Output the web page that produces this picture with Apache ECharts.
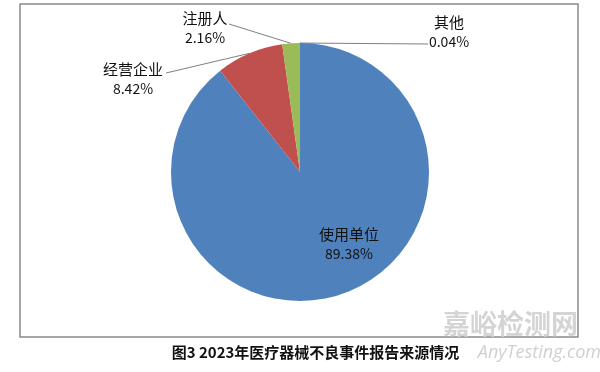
<!DOCTYPE html>
<html><head><meta charset="utf-8">
<script src="https://cdn.jsdelivr.net/npm/echarts@6/dist/echarts.min.js"></script>
<style>html,body{margin:0;padding:0;background:#fff}#c{width:600px;height:372px}</style>
</head><body><div id="c"></div>
<script>
const categories = ['使用单位', '经营企业', '注册人', '其他'];
const values = [89.38, 8.42, 2.16, 0.04];
const colors = ['#4F81BD', '#C0504D', '#9BBB59', '#8064A2'];
const titleText = '图3 2023年医疗器械不良事件报告来源情况';

// label centres and leader-line end points
const labelPos = [[349, 244], [133, 79], [205, 28], [449, 32]];
const lineEnd = [null, [166, 73], [229, 24], [428, 44]];

const chart = echarts.init(document.getElementById('c'), null, {renderer: 'canvas'});
const font = '"Noto Sans CJK SC", sans-serif';
chart.setOption({
  backgroundColor: '#fff',
  animation: false,
  graphic: [
    {type: 'rect', shape: {x: 20, y: 4, width: 558, height: 333}, style: {fill: 'none', stroke: '#8a8a8a', lineWidth: 1.5}, z: 0},
    {type: 'text', x: 578, y: 324, z: 1, style: {text: '嘉峪检测网', fill: '#d4d4d4', font: 'bold 27px "Noto Sans CJK SC"', textAlign: 'right', textVerticalAlign: 'middle'}},
    {type: 'text', x: 601, y: 353, z: 1, style: {text: 'AnyTesting.com', fill: '#d0d0d0', font: 'italic 18px "Open Sans"', textAlign: 'right', textVerticalAlign: 'middle'}},
    {type: 'text', x: 316, y: 352, z: 5, style: {text: titleText, fill: '#111', font: 'bold 15px "Noto Sans CJK SC"', textAlign: 'center', textVerticalAlign: 'middle', backgroundColor: '#fff', padding: [2, 3, 2, 2]}}
  ],
  series: [{
    type: 'pie',
    center: [300, 172],
    radius: [0, 129],
    startAngle: 90,
    clockwise: true,
    avoidLabelOverlap: false,
    label: {
      show: true,
      formatter: p => '{n|' + p.name + '}\n{v|' + p.value.toFixed(2) + '%}',
      fontFamily: font,
      color: '#111',
      align: 'center',
      rich: {
        n: {fontFamily: font, fontSize: 15, lineHeight: 20, color: '#111', align: 'center'},
        v: {fontFamily: font, fontSize: 14, lineHeight: 20, color: '#111', align: 'center'}
      }
    },
    labelLine: {show: true, length: 10, length2: 10, lineStyle: {color: '#808080', width: 1}},
    labelLayout: function (p) {
      const i = p.dataIndex;
      const pos = labelPos[i];
      const out = {x: pos[0], y: pos[1], align: 'center', verticalAlign: 'middle'};
      if (lineEnd[i] && p.labelLinePoints) {
        out.labelLinePoints = [p.labelLinePoints[0], lineEnd[i], lineEnd[i]];
      }
      return out;
    },
    data: categories.map((c, i) => ({
      name: c, value: values[i],
      itemStyle: {color: colors[i]},
      label: i === 0 ? {position: 'inside'} : {position: 'outside'},
      labelLine: i === 0 ? {show: false} : undefined
    }))
  }]
});
</script></body></html>
